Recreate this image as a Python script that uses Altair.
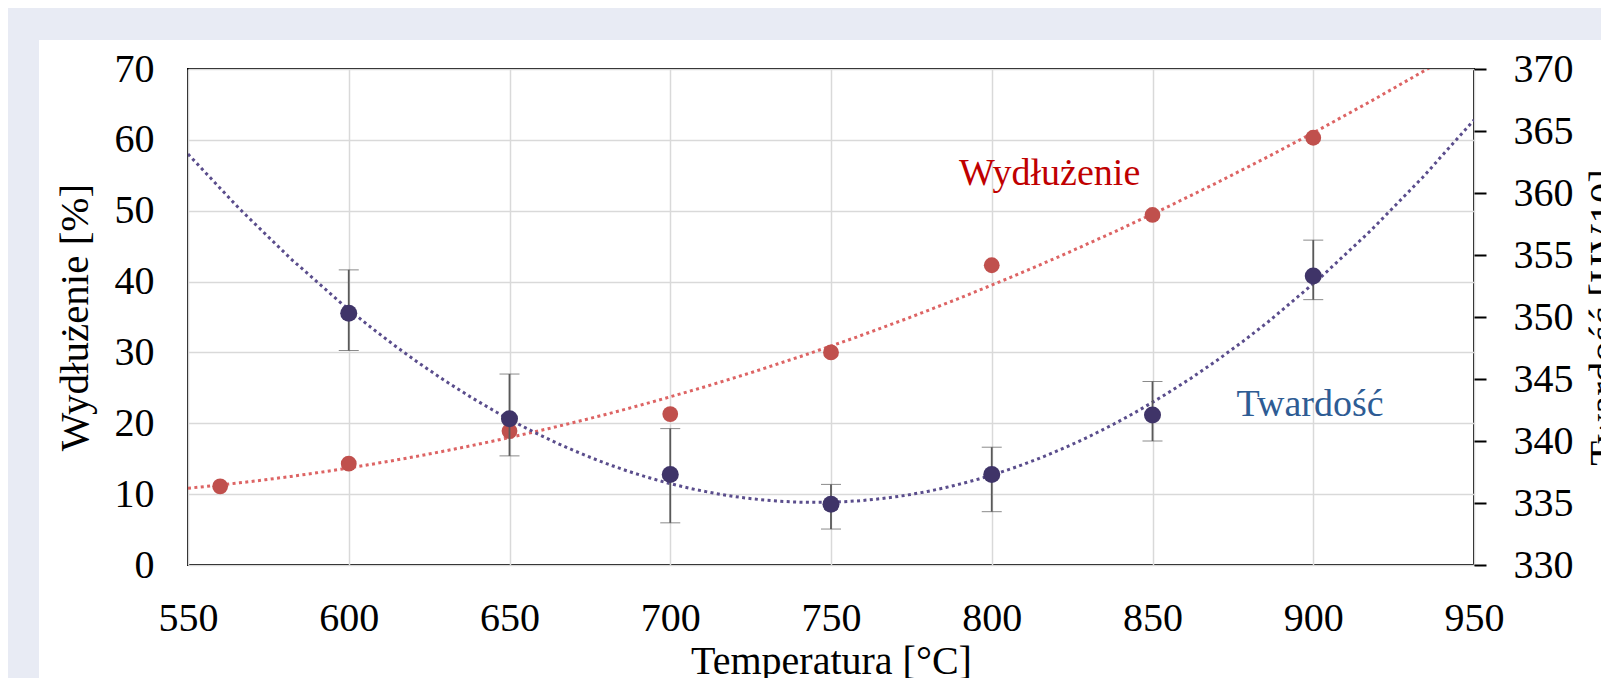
import altair as alt
import pandas as pd

# ---- data ----
temp_w = [560, 600, 650, 700, 750, 800, 850, 900]
elong = [11.1, 14.3, 18.9, 21.3, 30.0, 42.3, 49.4, 60.3]

temp_h = [600, 650, 700, 750, 800, 850, 900]
hard = [350.3, 341.8, 337.3, 334.9, 337.3, 342.1, 353.3]
hard_lo = [347.3, 338.8, 333.4, 332.9, 334.3, 340.0, 351.4]
hard_hi = [353.8, 345.4, 341.0, 336.5, 339.5, 344.8, 356.2]

x_ticks = [550, 600, 650, 700, 750, 800, 850, 900, 950]
left_ticks = [0, 10, 20, 30, 40, 50, 60, 70]
right_ticks = [330, 335, 340, 345, 350, 355, 360, 365, 370]

df_w = pd.DataFrame({"T": temp_w, "E": elong})
df_h = pd.DataFrame({"T": temp_h, "H": hard, "lo": hard_lo, "hi": hard_hi})
df_one = pd.DataFrame({"a": [0]})

FONT = "Liberation Serif"
RED_PT = "#c0504d"
RED_LN = "#dd6464"
PUR_PT = "#3f3468"
PUR_LN = "#5a4d8c"
BAND = "#e8ebf4"

x_enc = alt.X(
    "T:Q",
    scale=alt.Scale(domain=[550, 950], nice=False, zero=False),
    axis=alt.Axis(
        values=x_ticks, title="Temperatura [°C]", grid=True, gridColor="#d9d9d9",
        gridWidth=1.5, ticks=False, domain=False, labelFont=FONT, labelFontSize=40,
        labelColor="black", labelPadding=33, labelBaseline="top", labelFlush=False,
        labelOverlap=False,
        titleFont=FONT, titleFontSize=40, titleFontWeight="normal", titleColor="black",
        titleBaseline="alphabetic", titleY=108,
    ),
)

y_left = alt.Y(
    "E:Q",
    scale=alt.Scale(domain=[0, 70], nice=False),
    axis=alt.Axis(
        values=left_ticks, title="Wydłużenie [%]", grid=True, gridColor="#d9d9d9",
        gridWidth=1.5, ticks=False, domain=False, labelFont=FONT, labelFontSize=40,
        labelColor="black", labelPadding=34, labelFlush=False, labelOverlap=False,
        titleFont=FONT, titleFontSize=41, titleFontWeight="normal", titleColor="black",
        titleAngle=270, titleX=-113, titleY=248, titleAlign="center", titleBaseline="middle",
    ),
)

right_axis = alt.Axis(
    orient="right", values=right_ticks, title="Twardość [HV10]", grid=False,
    ticks=True, tickSize=12, tickColor="black", tickWidth=2, domain=False,
    labelFont=FONT, labelFontSize=40, labelColor="black", labelPadding=27,
    labelFlush=False, labelOverlap=False,
    titleFont=FONT, titleFontSize=41, titleFontWeight="normal", titleColor="black",
    titleAngle=270, titleX=142, titleY=248, titleAlign="center", titleBaseline="alphabetic",
)
hv_scale = alt.Scale(domain=[330, 370], nice=False, zero=False)

# decorative page bands (outside the plot area)
band_top = alt.Chart(df_one).mark_rect(color=BAND).encode(
    x=alt.value(-180), x2=alt.value(1421), y=alt.value(-61), y2=alt.value(-29)
)
band_left = alt.Chart(df_one).mark_rect(color=BAND).encode(
    x=alt.value(-180), x2=alt.value(-149), y=alt.value(-61), y2=alt.value(620)
)

base_w = alt.Chart(df_w)
red_trend = base_w.transform_regression(
    "T", "E", method="poly", order=2, extent=[550, 950]
).mark_line(color=RED_LN, strokeWidth=3, strokeDash=[3, 3.4], clip=True).encode(
    x=x_enc, y=y_left
)
red_pts = base_w.mark_circle(color=RED_PT, size=250, opacity=1).encode(x=x_enc, y=y_left)
red_txt = alt.Chart(df_one).mark_text(
    text="Wydłużenie", font=FONT, fontSize=38, color="#c00000",
    align="center", baseline="alphabetic",
).encode(x=alt.datum(818), y=alt.datum(53.6))

red_layer = alt.layer(band_top, band_left, red_trend, red_pts, red_txt)

base_h = alt.Chart(df_h)
pur_trend = base_h.transform_regression(
    "T", "H", method="poly", order=2, extent=[550, 950]
).mark_line(color=PUR_LN, strokeWidth=3, strokeDash=[3, 3.4], clip=True).encode(
    x=x_enc, y=alt.Y("H:Q", scale=hv_scale, axis=right_axis)
)
pur_err = base_h.mark_errorbar(
    color="#595959",
    rule={"strokeWidth": 1.8},
    ticks={"size": 20, "strokeWidth": 1.8},
).encode(
    x=x_enc,
    y=alt.Y("lo:Q", scale=hv_scale, axis=right_axis),
    y2="hi:Q",
)
pur_pts = base_h.mark_circle(color=PUR_PT, size=290, opacity=1).encode(
    x=x_enc, y=alt.Y("H:Q", scale=hv_scale, axis=right_axis)
)
pur_txt = alt.Chart(df_one).mark_text(
    text="Twardość", font=FONT, fontSize=38, color="#2e5c94",
    align="center", baseline="alphabetic",
).encode(x=alt.datum(899), y=alt.datum(342.0))

pur_layer = alt.layer(pur_trend, pur_err, pur_pts, pur_txt)

chart = (
    alt.layer(red_layer, pur_layer)
    .resolve_scale(y="independent")
    .properties(
        width=1286,
        height=496,
        autosize=alt.AutoSizeParams(type="none"),
        padding={"left": 180, "top": 61, "right": 127, "bottom": 113},
        background="white",
    )
    .configure_view(stroke="black", strokeWidth=2)
)

chart.save("out.html", embed_options={"renderer": "svg", "actions": False})
